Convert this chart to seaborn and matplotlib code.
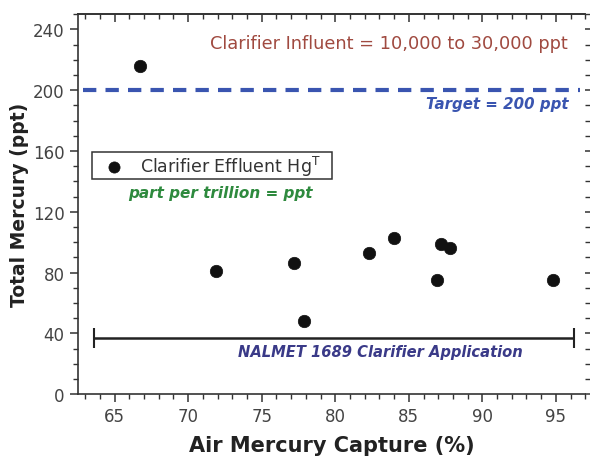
import matplotlib
matplotlib.use("Agg")
import matplotlib.pyplot as plt
from matplotlib.ticker import MultipleLocator
from matplotlib.patches import Rectangle
import seaborn as sns
import pandas as pd

air_capture = [66.7, 71.9, 77.2, 77.9, 82.3, 84.0, 87.2, 87.8, 86.9, 94.8]
total_hg = [216, 81, 86, 48, 93, 103, 99, 96, 75, 75]
target = 200
app_range = [63.6, 96.2]
app_level = 37

df = pd.DataFrame({"Air Mercury Capture (%)": air_capture,
                   "Total Mercury (ppt)": total_hg})

sns.set_style("white")
plt.rcParams['font.family'] = ['DejaVu Sans']

fig = plt.figure(figsize=(5.9, 4.6), dpi=100)
ax = fig.add_axes([0.132, 0.141, 0.860, 0.826])

sns.scatterplot(data=df, x="Air Mercury Capture (%)", y="Total Mercury (ppt)",
                ax=ax, color="#111111", s=80, edgecolor="#111111", linewidth=0.5,
                label="Clarifier Effluent Hg$^\\mathregular{T}$", zorder=3)

ax.axhline(target, xmin=0.01, xmax=0.99, color="#3a55b0", linestyle=(0, (3.2, 2.2)),
           linewidth=3, zorder=2)

mid = sum(app_range) / 2
ax.errorbar([mid], [app_level],
            xerr=[[mid - app_range[0]], [app_range[1] - mid]],
            fmt="none", ecolor="#222222", elinewidth=1.8, capsize=7, capthick=1.5)

ax.set_xlim(62.5, 97.0)
ax.set_ylim(0, 250)
ax.xaxis.set_major_locator(MultipleLocator(5))
ax.xaxis.set_minor_locator(MultipleLocator(1))
ax.yaxis.set_major_locator(MultipleLocator(40))
ax.yaxis.set_minor_locator(MultipleLocator(10))
ax.set_xticks([65, 70, 75, 80, 85, 90, 95])

for s in ["left", "bottom", "top"]:
    ax.spines[s].set_color("#333333")
    ax.spines[s].set_linewidth(1.2)
ax.spines["right"].set_visible(False)

ax.tick_params(axis="x", which="both", bottom=True, top=False, direction="out",
               color="#333333", labelsize=12, labelcolor="#444444")
ax.tick_params(axis="x", which="major", length=6, width=1.1)
ax.tick_params(axis="x", which="minor", length=3.5, width=1)
ax.tick_params(axis="y", which="both", left=True, right=True, direction="out",
               color="#333333", labelsize=12, labelcolor="#444444")
ax.tick_params(axis="y", which="major", length=6, width=1.1)
ax.tick_params(axis="y", which="minor", length=3.5, width=1)

# top ticks pointing inward
top = ax.secondary_xaxis("top")
top.xaxis.set_major_locator(MultipleLocator(5))
top.xaxis.set_minor_locator(MultipleLocator(1))
top.tick_params(axis="x", which="both", direction="in", color="#333333",
                labeltop=False)
top.tick_params(axis="x", which="major", length=6, width=1.1)
top.tick_params(axis="x", which="minor", length=3.5, width=1)
top.spines["top"].set_color("#333333")
top.spines["top"].set_linewidth(1.2)

ax.set_xlabel("Air Mercury Capture (%)", fontsize=15, fontweight="bold",
              color="#222222", labelpad=7)
ax.set_ylabel("Total Mercury (ppt)", fontsize=13.5, fontweight="bold",
              color="#222222", labelpad=3)

ax.text(0.613, 0.925, "Clarifier Influent = 10,000 to 30,000 ppt",
        transform=ax.transAxes, ha="center", va="center", fontsize=12.8,
        color="#a04a40")
ax.text(0.966, 0.765, "Target = 200 ppt", transform=ax.transAxes,
        ha="right", va="center", fontsize=10.8, color="#3a55b0",
        fontweight="bold", style="italic")
ax.text(0.28, 0.532, "part per trillion = ppt", transform=ax.transAxes,
        ha="center", va="center", fontsize=11, color="#2e8a3e",
        fontweight="bold", style="italic")
ax.text(0.596, 0.113, "NALMET 1689 Clarifier Application", transform=ax.transAxes,
        ha="center", va="center", fontsize=10.6, color="#3a3a88",
        fontweight="bold", style="italic")

leg = ax.legend(loc="center left", bbox_to_anchor=(0.054, 0.601), frameon=False,
                fontsize=12.5, handletextpad=1.0, handlelength=1.0, borderpad=0,
                borderaxespad=0, markerscale=0.9)
for t in leg.get_texts():
    t.set_color("#333333")

ax.add_patch(Rectangle((0.0276, 0.566), 0.473, 0.071, transform=ax.transAxes,
                       fill=False, edgecolor="#333333", linewidth=1.1, zorder=4))

fig.savefig("out.png", dpi=100)
